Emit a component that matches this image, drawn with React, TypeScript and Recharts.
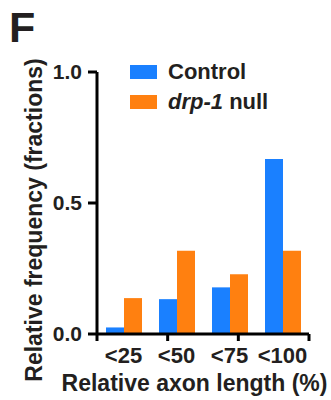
import React from 'react';
import { BarChart, Bar, XAxis, YAxis, Legend, Label } from 'recharts';

// values (fractions)
const categories = ['<25', '<50', '<75', '<100'];
const controlValues = [0.025, 0.133, 0.178, 0.668];
const drp1Values = [0.137, 0.318, 0.228, 0.318];
const yTicks = [0, 0.5, 1];
const edgeTicks = [0, 1, 2, 3, 4]; // tick marks sit between the bins

const data = categories.map((name, i) => ({
  name,
  control: controlValues[i],
  drp1: drp1Values[i],
}));

const FONT = '"Liberation Sans", Arial, sans-serif';
const INK = '#231f20';
const BLUE = '#1a80ff';
const ORANGE = '#ff8010';

const renderLegend = ({ payload }: any) => (
  <div style={{ fontFamily: FONT, fontWeight: 'bold', fontSize: 22, color: INK }}>
    {(payload || []).map((entry: any) => {
      const name: string = entry.value;
      const italic = entry.dataKey === 'drp1';
      const [first, ...rest] = name.split(' ');
      return (
        <div key={name} style={{ display: 'flex', alignItems: 'center', height: 30 }}>
          <span style={{ display: 'inline-block', width: 27, height: 14, background: entry.color, marginRight: 11 }} />
          {italic ? (
            <span>
              <i>{first}</i> {rest.join(' ')}
            </span>
          ) : (
            <span>{name}</span>
          )}
        </div>
      );
    })}
  </div>
);

const App: React.FC = () => {
  return (
    <div style={{ position: 'absolute', left: 0, top: 0, width: 331, height: 400, background: '#fff' }}>
      <div
        style={{
          position: 'absolute',
          left: 9,
          top: 6,
          fontFamily: FONT,
          fontWeight: 'bold',
          fontSize: 43,
          lineHeight: 1,
          color: INK,
        }}
      >
        F
      </div>
      <BarChart
        width={331}
        height={400}
        data={data}
        margin={{ top: 72, right: 22, bottom: 0, left: 0 }}
        barGap={0}
        barCategoryGap={0}
      >
        {/* axis line + tick marks at the bin edges */}
        <XAxis
          xAxisId="a"
          type="number"
          domain={[0, 4]}
          ticks={edgeTicks}
          allowDataOverflow
          tickFormatter={() => ''}
          tickSize={7}
          height={1}
          axisLine={{ stroke: '#000', strokeWidth: 3 }}
          tickLine={{ stroke: '#000', strokeWidth: 3 }}
        />
        {/* bin labels */}
        <XAxis
          xAxisId="b"
          dataKey="name"
          interval={0}
          axisLine={false}
          tickLine={false}
          tickSize={0}
          tickMargin={12}
          height={65}
          tick={{ fill: INK, fontSize: 22, fontWeight: 'bold', fontFamily: FONT }}
        >
          <Label
            content={({ viewBox }: any) => (
              <text
                x={viewBox.x + viewBox.width / 2 - 8.5}
                y={391}
                textAnchor="middle"
                fill={INK}
                fontSize={23}
                fontWeight="bold"
                fontFamily={FONT}
              >
                Relative axon length (%)
              </text>
            )}
          />
        </XAxis>
        <YAxis
          width={97}
          domain={[0, 1]}
          ticks={yTicks}
          allowDataOverflow
          tickFormatter={(v: number) => v.toFixed(1)}
          tickSize={9}
          tickMargin={6}
          axisLine={{ stroke: '#000', strokeWidth: 3 }}
          tickLine={{ stroke: '#000', strokeWidth: 3 }}
          tick={{ fill: INK, fontSize: 21, fontWeight: 'bold', fontFamily: FONT }}
        >
          <Label
            content={({ viewBox }: any) => {
              const cx = 42;
              const cy = viewBox.y + viewBox.height / 2 + 17;
              return (
                <text
                  x={cx}
                  y={cy}
                  transform={`rotate(-90, ${cx}, ${cy})`}
                  textAnchor="middle"
                  fill={INK}
                  fontSize={23}
                  fontWeight="bold"
                  fontFamily={FONT}
                >
                  Relative frequency (fractions)
                </text>
              );
            }}
          />
        </YAxis>
        <Legend
          layout="horizontal"
          align="center"
          verticalAlign="middle"
          wrapperStyle={{ left: 130, top: 57, width: 'auto' }}
          content={renderLegend}
        />
        <Bar xAxisId="b" dataKey="control" name="Control" fill={BLUE} barSize={18} isAnimationActive={false} />
        <Bar xAxisId="b" dataKey="drp1" name="drp-1 null" fill={ORANGE} barSize={18} isAnimationActive={false} />
      </BarChart>
    </div>
  );
};

export default App;
